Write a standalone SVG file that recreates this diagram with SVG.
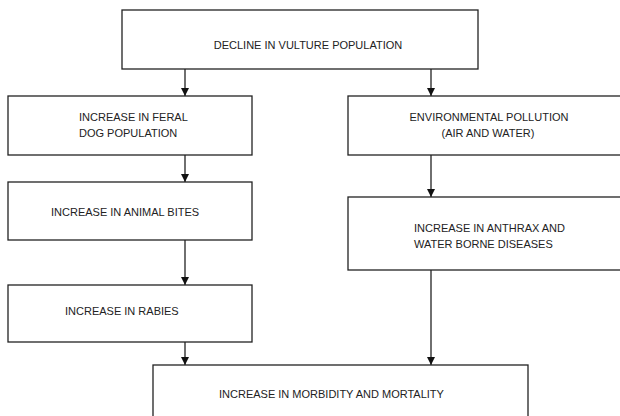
<svg xmlns="http://www.w3.org/2000/svg" width="620" height="416" viewBox="0 0 620 416">
<style>
.box{fill:#fff;stroke:#222;stroke-width:1.3}
.t{font-family:"Liberation Sans",Arial,sans-serif;font-size:11px;fill:#222}
.c{text-anchor:middle}
.ln{stroke:#222;stroke-width:1.3;fill:none}
</style>
<defs>
<marker id="ah" viewBox="0 0 10 10" refX="10" refY="5" markerWidth="8" markerHeight="8" markerUnits="userSpaceOnUse" orient="auto">
<path d="M0,0 L10,5 L0,10 Z" fill="#111"/>
</marker>
</defs>
<rect width="620" height="416" fill="#fff"/>
<g id="connectors">
<line class="ln" x1="185" y1="69" x2="185" y2="96" marker-end="url(#ah)"/>
<line class="ln" x1="431" y1="69" x2="431" y2="96" marker-end="url(#ah)"/>
<line class="ln" x1="185" y1="155" x2="185" y2="182" marker-end="url(#ah)"/>
<line class="ln" x1="431" y1="155" x2="431" y2="197" marker-end="url(#ah)"/>
<line class="ln" x1="185" y1="240" x2="185" y2="285" marker-end="url(#ah)"/>
<line class="ln" x1="185" y1="342" x2="185" y2="365" marker-end="url(#ah)"/>
<line class="ln" x1="431" y1="270" x2="431" y2="365" marker-end="url(#ah)"/>
</g>
<g id="n-decline">
<rect class="box" x="122" y="10" width="356" height="59"/>
<text class="t c" x="308" y="49">DECLINE IN VULTURE POPULATION</text>
</g>
<g id="n-feral">
<rect class="box" x="8" y="96" width="244" height="59"/>
<text class="t" x="79" y="121">INCREASE IN FERAL</text>
<text class="t" x="79" y="137">DOG POPULATION</text>
</g>
<g id="n-pollution">
<rect class="box" x="348" y="96" width="280" height="59"/>
<text class="t c" x="489" y="121">ENVIRONMENTAL POLLUTION</text>
<text class="t c" x="488" y="137">(AIR AND WATER)</text>
</g>
<g id="n-bites">
<rect class="box" x="8" y="182" width="244" height="58"/>
<text class="t" x="51" y="216">INCREASE IN ANIMAL BITES</text>
</g>
<g id="n-anthrax">
<rect class="box" x="348" y="197" width="280" height="73"/>
<text class="t" x="414" y="232">INCREASE IN ANTHRAX AND</text>
<text class="t" x="414" y="248">WATER BORNE DISEASES</text>
</g>
<g id="n-rabies">
<rect class="box" x="8" y="285" width="244" height="57"/>
<text class="t" x="65" y="315">INCREASE IN RABIES</text>
</g>
<g id="n-morbidity">
<rect class="box" x="153" y="365" width="375" height="60"/>
<text class="t" x="219" y="398">INCREASE IN MORBIDITY AND MORTALITY</text>
</g>
</svg>
